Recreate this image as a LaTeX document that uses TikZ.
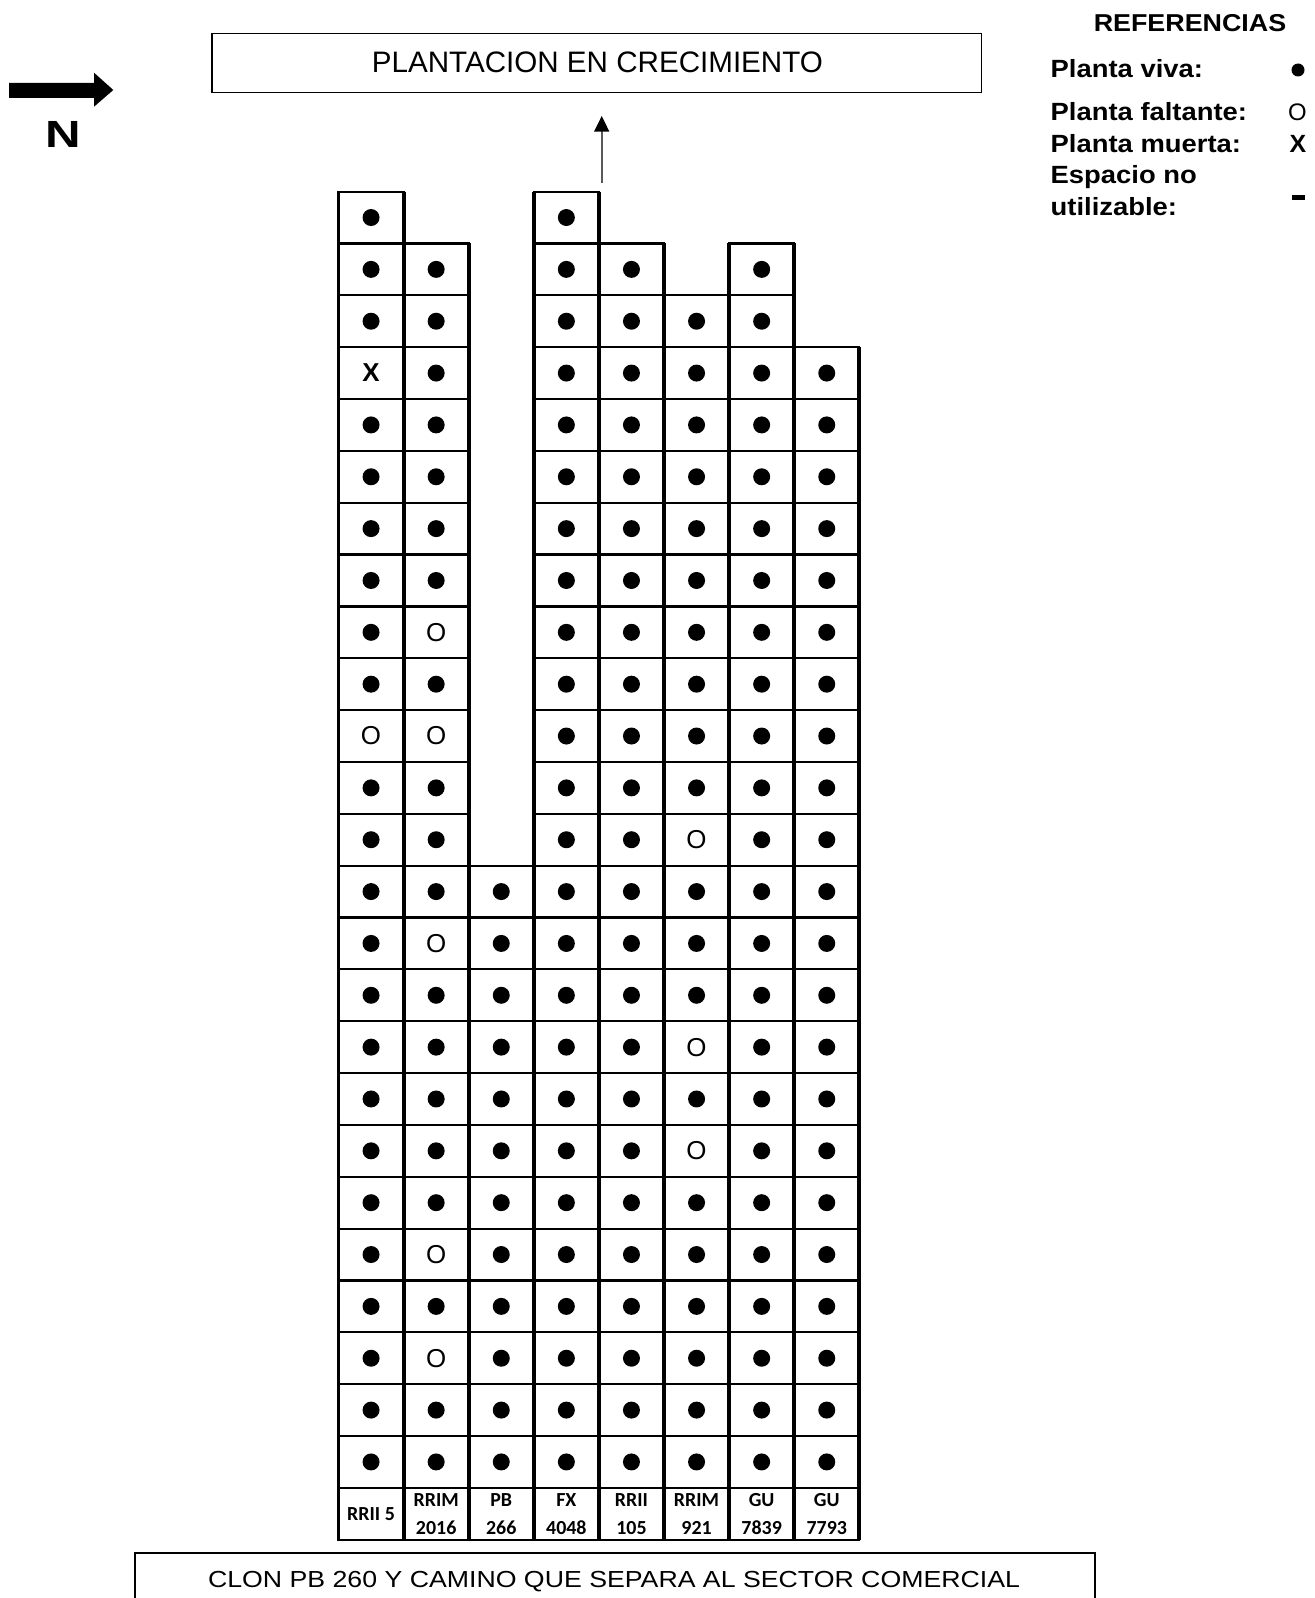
\documentclass[tikz,border=0pt]{standalone}
\usepackage{fontspec}
\setmainfont{Liberation Sans}
\newfontfamily\calib{Carlito}
\newfontfamily\widef[FakeStretch=1.10]{Liberation Sans}
\newfontfamily\botf[FakeStretch=1.15]{Liberation Sans}
\newfontfamily\northf[FakeStretch=1.3]{Liberation Sans}
\usetikzlibrary{arrows.meta}
\expandafter\def\csname st1-4\endcsname{}
\expandafter\def\csname st1-11\endcsname{}
\expandafter\def\csname st2-9\endcsname{}
\expandafter\def\csname st2-11\endcsname{}
\expandafter\def\csname st2-15\endcsname{}
\expandafter\def\csname st2-21\endcsname{}
\expandafter\def\csname st2-23\endcsname{}
\expandafter\def\csname st6-13\endcsname{}
\expandafter\def\csname st6-17\endcsname{}
\expandafter\def\csname st6-19\endcsname{}
\begin{document}
\begin{tikzpicture}[x=1bp,y=-1bp,
  cell/.style={draw, line width=2.2bp, minimum width=65.1bp, minimum height=51.85bp, inner sep=0, outer sep=0},
  labcell/.style={cell, font=\calib\bfseries\fontsize{20}{28}\selectfont, align=center},
  vline/.style={line width=3.8bp},
  legtext/.style={anchor=base west, inner sep=0, font=\widef\bfseries\fontsize{25}{25}\selectfont},
  plain/.style={inner sep=0},
  xsym/.style={inner sep=0, font=\bfseries\fontsize{26}{26}\selectfont},
  osym/.style={inner sep=0, font=\fontsize{26}{26}\selectfont}]
\useasboundingbox (0,0) rectangle (1315,1598);
% north arrow
\fill (9,83) -- (94,83) -- (94,72.7) -- (113.3,90) -- (94,106.7) -- (94,98) -- (9,98) -- cycle;
\node[plain, font=\northf\bfseries\fontsize{38}{38}\selectfont] (north) at (63.5,134) {N};
% top box
\node[draw, line width=1.3bp, minimum width=769.7bp, minimum height=59.2bp, inner sep=0] (plant) at (596.9,63.2) {};
\node[plain, font=\fontsize{29.7}{29.7}\selectfont] (planttxt) at (597.4,62) {PLANTACION EN CRECIMIENTO};
% small arrow
\coordinate (atail) at (601.7,183.3);
\coordinate (ahead) at (601.7,116);
\draw[black!65, line width=1.8bp, -{Triangle[length=15.7bp,width=15bp,color=black]}] (atail) -- (ahead);
% grid
\foreach \c/\t/\lab in {1/1/{RRII 5},2/2/{RRIM\\2016},3/14/{PB\\266},4/1/{FX\\4048},5/2/{RRII\\105},6/3/{RRIM\\921},7/2/{GU\\7839},8/4/{GU\\7793}}{
  \pgfmathsetmacro\xc{338.5+65.1*(\c-1)+32.55}
  \foreach \r in {\t,...,25}{
    \pgfmathsetmacro\yc{191.6+51.85*(\r-1)+25.925}
    \node[cell] (c\c-\r) at (\xc,\yc) {};
    \ifcsname st\c-\r\endcsname\else
      \fill (c\c-\r.center) circle (8.5);
    \fi
  }
  \node[labcell] (lab\c) at (\xc,1513.8) {\lab};
}
\node[xsym] (s1-4) at (c1-4.center) {X};
\foreach \p in {1-11,2-9,2-11,2-15,2-21,2-23,6-13,6-17,6-19}{
  \node[osym] (s\p) at (c\p.center) {O};
}
\foreach \c/\t in {1/1,2/2,3/14,4/1,5/2,6/3,7/2,8/4}{
  \draw[vline] (c\c-\t.north west) -- (lab\c.south west);
  \draw[vline] (c\c-\t.north east) -- (lab\c.south east);
}
% bottom box
\draw[line width=2bp] (134.6,1605) -- (134.6,1552.6) -- (1094.5,1552.6) -- (1094.5,1605);
\node[plain, font=\botf\fontsize{23.3}{23.3}\selectfont] (bottomtxt) at (614,1581.3) {CLON PB 260 Y CAMINO QUE SEPARA AL SECTOR COMERCIAL};
% legend
\node[plain, anchor=base, font=\widef\bfseries\fontsize{24.5}{24.5}\selectfont] (legtitle) at (1190,31.7) {REFERENCIAS};
\node[legtext] (l1) at (1050.5,77.3) {Planta viva:};
\node[legtext] (l2) at (1050.5,120.6) {Planta faltante:};
\node[legtext] (l3) at (1050.5,152.3) {Planta muerta:};
\node[legtext] (l4) at (1050.5,183.5) {Espacio no};
\node[legtext] (l5) at (1050.5,215) {utilizable:};
\fill (1298,70) circle (6.5);
\node[plain, font=\fontsize{24}{24}\selectfont] (lgO) at (1297.5,112.5) {O};
\node[plain, font=\bfseries\fontsize{25}{25}\selectfont] (lgX) at (1298,144) {X};
\fill (1291.5,195) rectangle (1304.5,200);
\end{tikzpicture}
\end{document}
